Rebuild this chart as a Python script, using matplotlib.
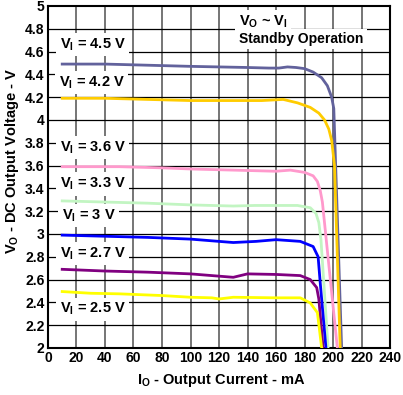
import numpy as np
import matplotlib
matplotlib.use('Agg')
import matplotlib.pyplot as plt

plt.rcParams['font.family'] = ['Liberation Sans', 'DejaVu Sans']
plt.rcParams['font.weight'] = 'bold'
plt.rcParams['mathtext.fontset'] = 'custom'
plt.rcParams['mathtext.rm'] = 'Liberation Sans:bold'
plt.rcParams['mathtext.it'] = 'Liberation Sans:bold'
plt.rcParams['mathtext.bf'] = 'Liberation Sans:bold'

# curves: output current (mA) vs output voltage (V)
x_45 = [10, 40, 70, 100, 120, 140, 155, 162, 168, 174, 180, 186, 192, 196, 199, 200.5, 206]
y_45 = [4.49, 4.49, 4.48, 4.47, 4.465, 4.46, 4.455, 4.455, 4.465, 4.46, 4.45, 4.42, 4.37, 4.30, 4.20, 4.10, 2.0]
x_42 = [10, 20, 40, 70, 100, 130, 150, 165, 175, 184, 190, 194, 197, 199, 201, 205]
y_42 = [4.19, 4.19, 4.19, 4.18, 4.17, 4.17, 4.17, 4.18, 4.15, 4.11, 4.06, 4.0, 3.92, 3.82, 3.6, 2.0]
x_36 = [10, 30, 50, 80, 100, 130, 160, 170, 180, 186, 189, 191, 192.5, 203]
y_36 = [3.59, 3.59, 3.59, 3.58, 3.57, 3.56, 3.55, 3.56, 3.54, 3.51, 3.46, 3.38, 3.28, 2.0]
x_33 = [10, 40, 70, 100, 130, 145, 160, 175, 184, 188, 190, 191.5, 196.5]
y_33 = [3.29, 3.28, 3.27, 3.255, 3.245, 3.25, 3.25, 3.25, 3.23, 3.18, 3.1, 2.95, 2.0]
x_30 = [10, 40, 70, 100, 115, 130, 146, 160, 177, 186, 189.5, 191, 195]
y_30 = [2.99, 2.98, 2.97, 2.955, 2.94, 2.925, 2.935, 2.95, 2.935, 2.89, 2.80, 2.57, 2.0]
x_27 = [10, 40, 70, 100, 120, 130, 140, 160, 177, 184, 188.5, 190, 193]
y_27 = [2.69, 2.675, 2.665, 2.65, 2.63, 2.62, 2.65, 2.645, 2.635, 2.60, 2.53, 2.43, 2.0]
x_25 = [10, 30, 50, 80, 100, 115, 120, 130, 160, 177, 184, 189, 192]
y_25 = [2.495, 2.48, 2.475, 2.46, 2.445, 2.44, 2.43, 2.445, 2.44, 2.44, 2.395, 2.31, 2.0]

labels = ['4.5', '4.2', '3.6', '3.3', '3', '2.7', '2.5']
label_pos = [(31.5, 4.66), (30.5, 4.33), (31.5, 3.76), (31.5, 3.44), (28.5, 3.16), (31.5, 2.83), (31.5, 2.34)]

series = [(x_45, y_45, '#62629c'), (x_42, y_42, '#ffcc00'), (x_36, y_36, '#ff99cc'),
          (x_33, y_33, '#c2f5c2'), (x_30, y_30, '#0000ff'), (x_27, y_27, '#800080'),
          (x_25, y_25, '#ffff00')]

fig = plt.figure(figsize=(4.03, 3.95), dpi=100)
ax = fig.add_axes([0.119, 0.119, 0.849, 0.866])

ax.set_xlim(0, 240)
ax.set_ylim(2, 5)
xt = np.arange(0, 241, 20)
yt = np.round(np.arange(2, 5.01, 0.2), 1)
ax.set_xticks(xt)
ax.set_yticks(yt)
ax.set_yticklabels(['%g' % v for v in yt])
ax.tick_params(length=0, labelsize=10, pad=2.5)
for t in ax.get_xticklabels() + ax.get_yticklabels():
    t.set_fontweight('bold')

for v in xt[1:-1]:
    ax.axvline(v, color='#505050', lw=1.1, zorder=1)
for v in yt[1:-1]:
    ax.axhline(v, color='black', lw=0.9, zorder=1)
for s in ax.spines.values():
    s.set_linewidth(1.5)

for x, y, c in series:
    ax.plot(x, y, color=c, lw=2.0, zorder=3, solid_joinstyle='round')

for lab, (lx, ly) in zip(labels, label_pos):
    ax.text(lx, ly, r'V$_\mathregular{I}$ = %s V' % lab, ha='center', va='center',
            fontsize=10.5, fontweight='bold', zorder=2,
            bbox=dict(facecolor='white', edgecolor='none', pad=2.5))

ax.text(134, 4.86, r'V$_\mathregular{O}$ ~ V$_\mathregular{I}$', ha='left', va='center',
        fontsize=10.5, fontweight='bold', zorder=2,
        bbox=dict(facecolor='white', edgecolor='none', pad=2.5))
ax.text(134, 4.71, 'Standby Operation', ha='left', va='center',
        fontsize=10, fontweight='bold', zorder=2,
        bbox=dict(facecolor='white', edgecolor='none', pad=2.5))

ax.set_xlabel(r'I$_\mathregular{O}$ - Output Current - mA', fontsize=10.5, fontweight='bold')
ax.set_ylabel(r'V$_\mathregular{O}$ - DC Output Voltage - V', fontsize=10.5, fontweight='bold')
ax.xaxis.set_label_coords(0.506, -0.07)
ax.yaxis.set_label_coords(-0.08, 0.547)

fig.savefig('out.png', dpi=100)
